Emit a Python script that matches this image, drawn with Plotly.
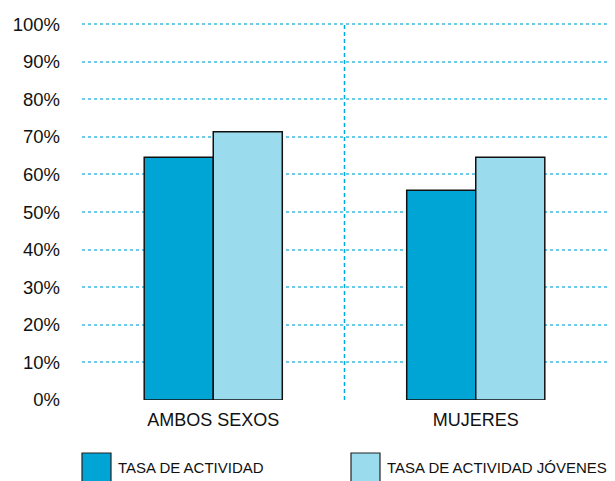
import plotly.graph_objects as go

categories = ["AMBOS SEXOS", "MUJERES"]
series_names = ["TASA DE ACTIVIDAD", "TASA DE ACTIVIDAD JÓVENES"]
tasa_actividad = [64.6, 55.8]
tasa_jovenes = [71.4, 64.6]
y_ticks = [0, 10, 20, 30, 40, 50, 60, 70, 80, 90, 100]
y_tick_labels = [f"{v}%" for v in y_ticks]

colors = ["#00a5d5", "#9adbee"]
FONT = "Liberation Sans, Arial, Helvetica, sans-serif"

fig = go.Figure()
for name, vals, col in zip(series_names, [tasa_actividad, tasa_jovenes], colors):
    fig.add_trace(go.Bar(x=categories, y=vals, name=name, marker_color=col,
                         marker_line_color="#111111", marker_line_width=1.5,
                         showlegend=False))

L, R, T, B = 82, 8, 23, 81
W, H = 615, 481
pw, ph = W - L - R, H - T - B

def px_x(p):
    return (p - L) / pw

def px_y(p):
    return (H - B - p) / ph

shapes = [dict(type="line", xref="x", yref="y", x0=0.5, x1=0.5, y0=0, y1=100,
               line=dict(color="#00a9dc", width=1.5, dash="4px,3px"), layer="below")]
annotations = []
legend_x = [82, 351]
for lx, name, col in zip(legend_x, series_names, colors):
    shapes.append(dict(type="rect", xref="paper", yref="paper",
                       x0=px_x(lx), x1=px_x(lx + 29), y0=px_y(483), y1=px_y(453),
                       fillcolor=col, line=dict(color="#222222", width=1.2)))
    annotations.append(dict(xref="paper", yref="paper", x=px_x(lx + 34), y=px_y(467),
                            text=name, showarrow=False, xanchor="left", yanchor="middle",
                            font=dict(size=15, color="#111111", family=FONT)))

fig.update_layout(
    width=W, height=H, margin=dict(l=L, r=R, t=T, b=B),
    paper_bgcolor="white", plot_bgcolor="white",
    barmode="group", bargap=0.474, bargroupgap=0,
    font=dict(family=FONT, color="#111111", size=17),
    shapes=shapes, annotations=annotations,
    xaxis=dict(showgrid=False, showline=False, ticks="", tickfont=dict(size=18),
               ticklabelstandoff=7, automargin=False),
    yaxis=dict(range=[0, 100.3], tickvals=y_ticks, ticktext=y_tick_labels,
               showgrid=True, gridcolor="#6ccbe6", gridwidth=1.5, griddash="dot",
               zeroline=False, showline=False, ticks="", tickfont=dict(size=18.5),
               ticklabelstandoff=21, automargin=False),
)

fig.write_html("out.html", config={"displayModeBar": False})
with open("out.html", encoding="utf-8") as f:
    html = f.read()
html = html.replace("<body>", '<body style="margin:0;padding:0;overflow:hidden;">', 1)
with open("out.html", "w", encoding="utf-8") as f:
    f.write(html)
